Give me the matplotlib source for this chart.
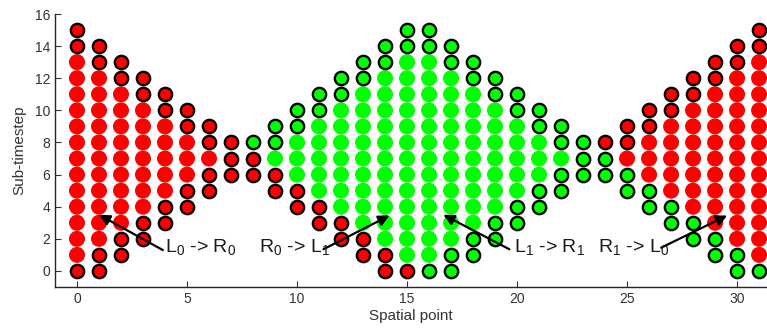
import numpy as np
import matplotlib
matplotlib.use("Agg")
import matplotlib.pyplot as plt

plt.rcParams['font.family'] = ['Liberation Sans', 'DejaVu Sans']
plt.rcParams['mathtext.fontset'] = 'custom'
plt.rcParams['mathtext.rm'] = 'Liberation Sans'
plt.rcParams['mathtext.it'] = 'Liberation Sans'

# one string per spatial point, read bottom (sub-timestep 0) to top (15)
# R/G = red/green point, r/g = same colour with black outline, . = nothing
columns = [
    "rRRRRRRRRRRRRRrr", "rrRRRRRRRRRRRrr.", ".rrRRRRRRRRRrr..", "..rrRRRRRRRrr...",
    "...rrRRRRRrr....", "....rrRRRrr.....", ".....rrRrr......", "......rrr.......",
    "......rrg.......", ".....rrGgg......", "....rrGGGgg.....", "...rrGGGGGgg....",
    "..rrGGGGGGGgg...", ".rrGGGGGGGGGgg..", "rrGGGGGGGGGGGgg.", "rGGGGGGGGGGGGGgg",
    "gGGGGGGGGGGGGGgg", "ggGGGGGGGGGGGgg.", ".ggGGGGGGGGGgg..", "..ggGGGGGGGgg...",
    "...ggGGGGGgg....", "....ggGGGgg.....", ".....ggGgg......", "......ggg.......",
    "......ggr.......", ".....ggRrr......", "....ggRRRrr.....", "...ggRRRRRrr....",
    "..ggRRRRRRRrr...", ".ggRRRRRRRRRrr..", "ggRRRRRRRRRRRrr.", "gRRRRRRRRRRRRRrr",
]

# annotations: label, text position, arrow tail, arrow tip
labels = ["L$_0$ -> R$_0$", "R$_0$ -> L$_1$", "L$_1$ -> R$_1$", "R$_1$ -> L$_0$"]
label_pos = [(4.0, 1.15), (8.25, 1.15), (19.85, 1.15), (23.7, 1.15)]
arrow_tail = [(3.9, 1.3), (11.2, 1.35), (19.65, 1.35), (26.55, 1.45)]
arrow_tip = [(1.0, 3.5), (14.2, 3.45), (16.65, 3.5), (29.55, 3.45)]

colors = {'r': (1, 0, 0), 'g': (0, 1, 0)}

xs = {k: [] for k in 'rRgG'}
ys = {k: [] for k in 'rRgG'}
for x, col in enumerate(columns):
    for y, c in enumerate(col):
        if c != '.':
            xs[c].append(x)
            ys[c].append(y)

fig = plt.figure(figsize=(7.67, 3.33), dpi=100)
ax = fig.add_axes([55 / 767, 46 / 333, 712 / 767, 273 / 333])

# plain filled points
for k in 'RG':
    ax.scatter(xs[k], ys[k], s=133, color=colors[k.lower()], edgecolors='none', zorder=2)
# outlined points
for k in 'rg':
    ax.scatter(xs[k], ys[k], s=92, color=colors[k], edgecolors='k', linewidths=1.7, zorder=3)

for lab, p, t0, t1 in zip(labels, label_pos, arrow_tail, arrow_tip):
    ax.annotate('', xy=t1, xytext=t0,
                arrowprops=dict(arrowstyle='-|>', color='k', lw=1.6, mutation_scale=16,
                                shrinkA=0, shrinkB=0), zorder=4)
    ax.text(p[0], p[1], lab, fontsize=14, va='baseline', ha='left', color='#1a1a1a', zorder=4)

ax.set_xlim(-1, 31.36)
ax.set_ylim(-1, 16)
ax.set_xticks(np.arange(0, 31, 5))
ax.set_yticks(np.arange(0, 17, 2))
ax.spines['top'].set_visible(False)
ax.spines['right'].set_visible(False)
for s in ['left', 'bottom']:
    ax.spines[s].set_color('#262626')
    ax.spines[s].set_linewidth(1.0)
ax.tick_params(direction='in', length=4, width=0.8, colors='#333333', labelsize=10)
ax.set_xlabel('Spatial point', fontsize=11, color='#333333', labelpad=2)
ax.set_ylabel('Sub-timestep', fontsize=11, color='#333333', labelpad=6)

fig.savefig('out.png', dpi=100)
